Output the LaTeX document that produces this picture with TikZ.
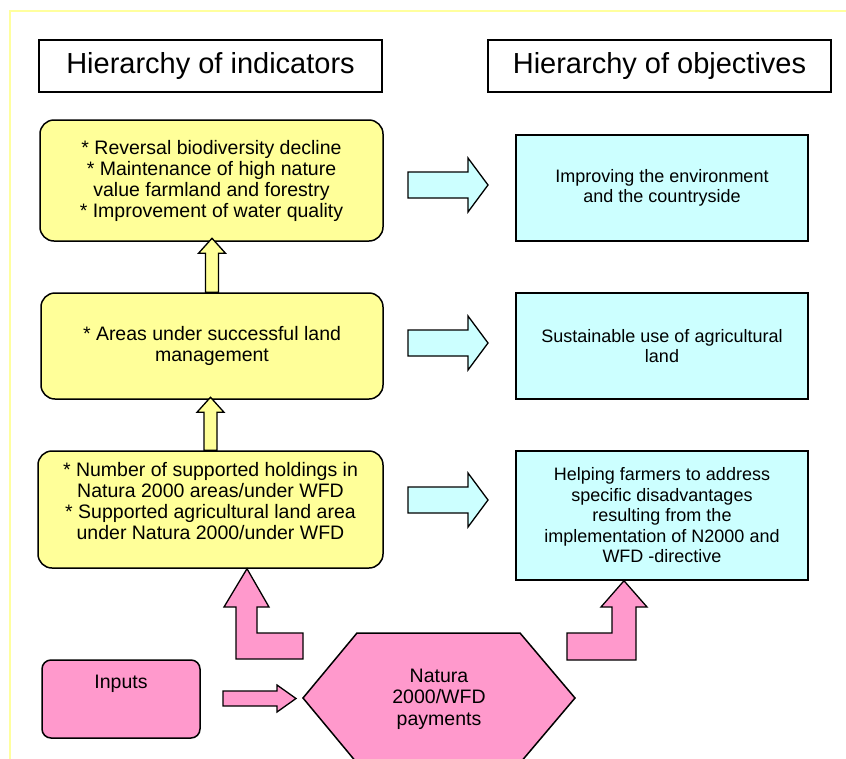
\documentclass[tikz,border=0pt]{standalone}
\usepackage{fontspec}
\setmainfont{Liberation Sans}
\usetikzlibrary{calc}
\definecolor{indfill}{HTML}{FFFF99}
\definecolor{objfill}{HTML}{CCFFFF}
\definecolor{inpfill}{HTML}{FF99CC}
\definecolor{framecol}{HTML}{FFFF9E}
\tikzset{
	heading/.style = {draw, line width=1.3pt, minimum width=343, minimum height=52,
		font=\fontsize{29}{32}\selectfont},
	indicator/.style = {draw, line width=1.5pt, fill=indfill, rounded corners=14,
		align=center, font=\fontsize{19.5}{21}\selectfont},
	objective/.style = {draw, line width=1.5pt, fill=objfill, minimum width=292,
		align=center, font=\fontsize{18}{20.5}\selectfont},
	payment/.style = {draw, line width=1.5pt, fill=inpfill},
	label/.style = {align=center, font=\fontsize{19.5}{21}\selectfont},
	blk/.style = {draw, line width=1.3pt, line join=miter}
}
\def\blockarrow[#1](#2)(#3:#4:#5:#6:#7)%
    { \draw[blk, #1, shift={(#2)}, rotate=#3] (0,-#5/2) -- (#4-#7,-#5/2) -- (#4-#7,-#6/2)
      -- (#4,0) -- (#4-#7,#6/2) -- (#4-#7,#5/2) -- (0,#5/2) -- cycle; }

\begin{document}
\begin{tikzpicture}[x=1pt, y=-1pt]
	\useasboundingbox (0,0) rectangle (846,758);
	\draw[framecol, line width=1.5pt] (10,11) rectangle (900,800);

	% headings
	\node[heading] (indhead) at (210.5,66) {Hierarchy of indicators};
	\node[heading] (objhead) at (659.5,66) {Hierarchy of objectives};

	% indicators
	\node[indicator, minimum width=343, minimum height=121] (ind1) at (211.5,180.5)
		{* Reversal biodiversity decline\\* Maintenance of high nature\\value farmland and forestry\\* Improvement of water quality};
	\node[indicator, minimum width=342, minimum height=106] (ind2) at (212,346)
		{* Areas under successful land\\management};
	\node[indicator, minimum width=345, minimum height=117] (ind3) at (210.5,509.5) {};
	\node[label] (ind3text) at (210.5,501)
		{* Number of supported holdings in\\Natura 2000 areas/under WFD\\* Supported agricultural land area\\under Natura 2000/under WFD};

	% objectives
	\node[objective, minimum height=106] (obj1) at (662,188)
		{Improving the environment\\and the countryside};
	\node[objective, minimum height=106] (obj2) at (662,346)
		{Sustainable use of agricultural\\land};
	\node[objective, minimum height=129] (obj3) at (662,515.5)
		{Helping farmers to address\\specific disadvantages\\resulting from the\\implementation of N2000 and\\WFD -directive};

	% inputs and payments
	\node[payment, rounded corners=9, minimum width=158, minimum height=78] (inputs) at (121,699) {};
	\node[label] (inputstext) at ([yshift=-25]inputs.north) {Inputs};
	\draw[payment] (303,698) -- (357,633) -- (520,633) -- (575,698) -- (520,763) -- (357,763) -- cycle;
	\node[label, font=\fontsize{19.5}{21.5}\selectfont] (pay) at (439,699) {Natura\\2000/WFD\\payments};

	% arrows
	\blockarrow[fill=indfill](ind2.north)(90:54:13:27:15);
	\blockarrow[fill=indfill](ind3.north)(90:53:13:27:15);
	\foreach \y in {185,343,500}
		\blockarrow[fill=objfill](408,\y)(0:80:26:54:20);
	\blockarrow[fill=inpfill](223,698.5)(0:73:15:27:19);
	\draw[blk, fill=inpfill] (ind3.south -| 247,0) -- (269,607) -- (257,607) -- (257,633) -- (303,633)
		-- (303,659) -- (236,659) -- (236,607) -- (224,607) -- cycle;
	\draw[blk, fill=inpfill] (obj3.south -| 624,0) -- (647,607) -- (636,607) -- (636,660) -- (567,660)
		-- (567,633) -- (612,633) -- (612,607) -- (601,607) -- cycle;
\end{tikzpicture}
\end{document}
